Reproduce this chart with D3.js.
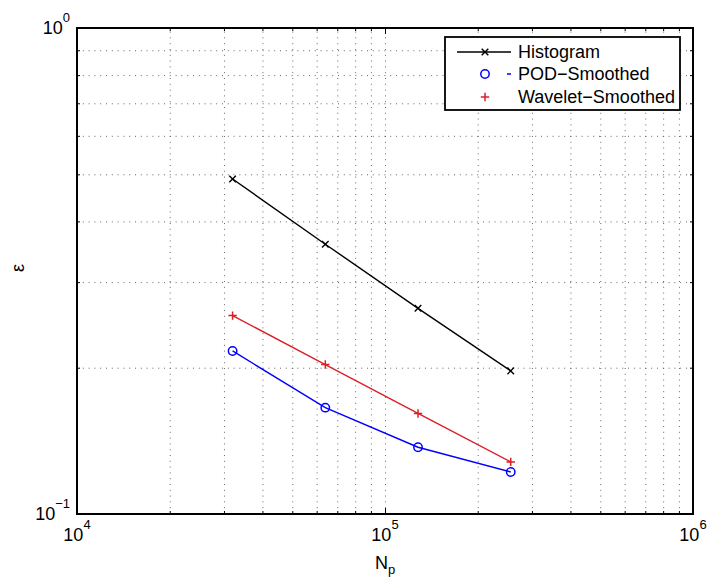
<!DOCTYPE html>
<html><head><meta charset="utf-8">
<script src="https://cdn.jsdelivr.net/npm/d3@7"></script>
<style>
body{margin:0;background:#fff;}
svg text{font-family:"Liberation Sans",Arial,Helvetica,sans-serif;fill:#000;}
</style></head>
<body><svg id="c" width="710" height="584"></svg>
<script>
const Np = [32000, 64000, 128000, 256000];
const histogram = [0.489, 0.359, 0.265, 0.197];
const podSmoothed = [0.2165, 0.1655, 0.1372, 0.122];
const waveletSmoothed = [0.256, 0.203, 0.161, 0.128];
const xMajor = [1e4, 1e5, 1e6];
const yMajor = [0.1, 1];
const seriesNames = ["Histogram", "POD\u2212Smoothed", "Wavelet\u2212Smoothed"];

const L = 77, R = 693, T = 28, B = 514;
const svg = d3.select("#c");
const x = d3.scaleLog().domain([1e4, 1e6]).range([L, R]);
const y = d3.scaleLog().domain([0.1, 1]).range([B, T]);

const xAll = [], yAll = [];
for (let e = 4; e < 6; e++) for (let m = 1; m < 10; m++) xAll.push(m * Math.pow(10, e));
xAll.push(1e6);
for (let m = 1; m <= 10; m++) yAll.push(m / 10);

// grid
const gx = svg.append("g").attr("transform", `translate(0,${B})`)
  .call(d3.axisBottom(x).tickValues(xAll.filter(v => v > 1e4 && v < 1e6)).tickSize(-(B - T)).tickFormat(""));
const gy = svg.append("g").attr("transform", `translate(${L},0)`)
  .call(d3.axisLeft(y).tickValues(yAll.filter(v => v > 0.1 && v < 1)).tickSize(-(R - L)).tickFormat(""));
[gx, gy].forEach(g => {
  g.select(".domain").remove();
  g.selectAll("line").attr("stroke", "#666").attr("stroke-width", 1).attr("stroke-dasharray", "1,4.8");
});

// ticks (inside, all four sides)
function tickAxis(axisFn, scale, vals, size, tr) {
  const g = svg.append("g").attr("transform", tr)
    .call(axisFn(scale).tickValues(vals).tickSize(size).tickFormat(""));
  g.select(".domain").remove();
  g.selectAll("line").attr("stroke", "#000").attr("stroke-width", 1);
}
const xMinor = xAll.filter(v => !xMajor.includes(v));
const yMinor = yAll.filter(v => !yMajor.some(m => Math.abs(m - v) < 1e-9));
tickAxis(d3.axisTop, x, xMajor, 6, `translate(0,${B})`);
tickAxis(d3.axisTop, x, xMinor, 3, `translate(0,${B})`);
tickAxis(d3.axisBottom, x, xMajor, 6, `translate(0,${T})`);
tickAxis(d3.axisBottom, x, xMinor, 3, `translate(0,${T})`);
tickAxis(d3.axisRight, y, yMajor, 6, `translate(${L},0)`);
tickAxis(d3.axisRight, y, yMinor, 3, `translate(${L},0)`);
tickAxis(d3.axisLeft, y, yMajor, 6, `translate(${R},0)`);
tickAxis(d3.axisLeft, y, yMinor, 3, `translate(${R},0)`);

// tick labels
xMajor.forEach(v => {
  const t = svg.append("text").attr("x", x(v)).attr("y", B + 27)
    .attr("text-anchor", "middle").attr("font-size", 18);
  t.append("tspan").text("10");
  t.append("tspan").attr("font-size", 13).attr("dy", -12).text(Math.round(Math.log10(v)));
});
yMajor.forEach(v => {
  const e = Math.round(Math.log10(v));
  const t = svg.append("text").attr("x", L - 7).attr("y", y(v) + 6)
    .attr("text-anchor", "end").attr("font-size", 18);
  t.append("tspan").text("10");
  t.append("tspan").attr("font-size", 13).attr("dy", -12).text(e < 0 ? "\u2212" + (-e) : e);
});

// axis labels
const xl = svg.append("text").attr("x", 385).attr("y", 569).attr("text-anchor", "middle").attr("font-size", 18);
xl.append("tspan").text("N");
xl.append("tspan").attr("font-size", 13).attr("dy", 5).text("p");
svg.append("text").attr("transform", "translate(24,268) rotate(-90)")
  .attr("text-anchor", "middle").attr("font-size", 18).text("\u03b5");

// frame
svg.append("rect").attr("x", L).attr("y", T).attr("width", R - L).attr("height", B - T)
  .attr("fill", "none").attr("stroke", "#000").attr("stroke-width", 2);

// series
const line = d3.line().x(d => x(d[0])).y(d => y(d[1]));
const series = [
  {name: seriesNames[0], vals: histogram, color: "#000", marker: "x"},
  {name: seriesNames[1], vals: podSmoothed, color: "#0000ff", marker: "o"},
  {name: seriesNames[2], vals: waveletSmoothed, color: "#dc1f26", marker: "+"}
];
function drawMarker(g, type, cx, cy, color) {
  if (type === "x") {
    const s = 3.3;
    g.append("path").attr("d", `M${cx - s},${cy - s}L${cx + s},${cy + s}M${cx - s},${cy + s}L${cx + s},${cy - s}`)
      .attr("stroke", color).attr("stroke-width", 1.4).attr("fill", "none");
  } else if (type === "o") {
    g.append("circle").attr("cx", cx).attr("cy", cy).attr("r", 4.2)
      .attr("stroke", color).attr("stroke-width", 1.5).attr("fill", "none");
  } else {
    const s = 4.2;
    g.append("path").attr("d", `M${cx - s},${cy}L${cx + s},${cy}M${cx},${cy - s}L${cx},${cy + s}`)
      .attr("stroke", color).attr("stroke-width", 1.5).attr("fill", "none");
  }
}
series.forEach(s => {
  const pts = Np.map((n, i) => [n, s.vals[i]]);
  svg.append("path").attr("d", line(pts)).attr("fill", "none")
    .attr("stroke", s.color).attr("stroke-width", 1.4);
  const g = svg.append("g");
  pts.forEach(p => drawMarker(g, s.marker, x(p[0]), y(p[1]), s.color));
});

// legend
const lg = svg.append("g");
lg.append("rect").attr("x", 445).attr("y", 37).attr("width", 235).attr("height", 73)
  .attr("fill", "#fff").attr("stroke", "#000").attr("stroke-width", 1.8);
const rowsY = [52, 74, 97];
series.forEach((s, i) => {
  const ry = rowsY[i];
  if (i === 0) {
    lg.append("line").attr("x1", 457).attr("x2", 511).attr("y1", ry).attr("y2", ry)
      .attr("stroke", s.color).attr("stroke-width", 1.4);
  } else if (i === 1) {
    lg.append("line").attr("x1", 507).attr("x2", 511).attr("y1", ry).attr("y2", ry)
      .attr("stroke", s.color).attr("stroke-width", 1.5);
  }
  drawMarker(lg, s.marker, 485, ry, s.color);
  lg.append("text").attr("x", 518).attr("y", ry + 6).attr("font-size", 18).text(s.name);
});
</script></body></html>
